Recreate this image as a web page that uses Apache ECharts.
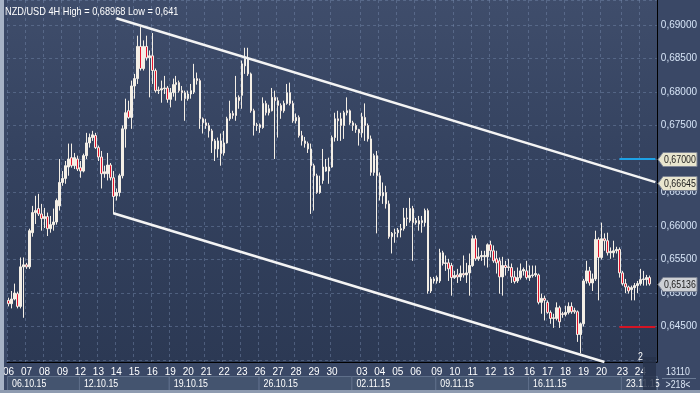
<!DOCTYPE html>
<html><head><meta charset="utf-8">
<script src="https://cdn.jsdelivr.net/npm/echarts@6/dist/echarts.min.js"></script>
<style>html,body{margin:0;padding:0;background:#33405c;}#c{width:700px;height:393px;}</style>
</head><body><div id="c"></div>
<script>
// ---- data ----
const chartTitle = 'NZD/USD 4H High = 0,68968 Low = 0,641';
// each candle: [open, close, low, high]
const wk1 = [[0.6489,0.6484,0.6480,0.6493],[0.6484,0.6491,0.6477,0.6503],[0.6491,0.6500,0.6489,0.6514],[0.6499,0.6480,0.6477,0.6502],[0.6480,0.6539,0.6477,0.6553],[0.6539,0.6542,0.6463,0.6553],[0.6542,0.6539,0.6536,0.6545],[0.6539,0.6593,0.6536,0.6596],[0.6590,0.6620,0.6584,0.6630],[0.6620,0.6623,0.6603,0.6645],[0.6626,0.6618,0.6615,0.6648],[0.6618,0.6611,0.6593,0.6633],[0.6611,0.6614,0.6597,0.6627],[0.6614,0.6596,0.6585,0.6620],[0.6596,0.6602,0.6590,0.6615],[0.6602,0.6606,0.6593,0.6626],[0.6606,0.6638,0.6602,0.6641],[0.6630,0.6665,0.6623,0.6700],[0.6665,0.6671,0.6660,0.6682],[0.6671,0.6690,0.6663,0.6697],[0.6688,0.6700,0.6675,0.6723],[0.6702,0.6690,0.6687,0.6723],[0.6690,0.6702,0.6685,0.6709],[0.6700,0.6685,0.6682,0.6705]];
const wk2 = [[0.6687,0.6682,0.6672,0.6697],[0.6682,0.6705,0.6680,0.6708],[0.6705,0.6724,0.6700,0.6739],[0.6724,0.6732,0.6717,0.6738],[0.6732,0.6736,0.6727,0.6742],[0.6735,0.6717,0.6715,0.6739],[0.6717,0.6703,0.6697,0.6720],[0.6703,0.6678,0.6656,0.6712],[0.6678,0.6681,0.6672,0.6690],[0.6678,0.6691,0.6668,0.6709],[0.6691,0.6672,0.6668,0.6694],[0.6672,0.6644,0.6618,0.6682],[0.6645,0.6650,0.6638,0.6656],[0.6650,0.6675,0.6644,0.6678],[0.6675,0.6745,0.6671,0.6750],[0.6745,0.6769,0.6717,0.6790],[0.6772,0.6762,0.6760,0.6787],[0.6762,0.6809,0.6745,0.6817],[0.6809,0.6820,0.6790,0.6827],[0.6820,0.6868,0.6812,0.6884],[0.6868,0.6835,0.6832,0.68968],[0.6835,0.6868,0.6832,0.6877],[0.6868,0.6851,0.6847,0.6884],[0.6851,0.6854,0.6792,0.6862],[0.6854,0.6832,0.6812,0.6888],[0.6832,0.6802,0.6799,0.6835],[0.6802,0.6803,0.6797,0.6808],[0.6803,0.6805,0.6784,0.6817],[0.6805,0.6806,0.6797,0.6824],[0.6806,0.6789,0.6784,0.6809]];
const wk3 = [[0.6789,0.6799,0.6777,0.6806],[0.6799,0.6811,0.6793,0.6820],[0.6811,0.6814,0.6787,0.6824],[0.6814,0.6802,0.6799,0.6817],[0.6802,0.6799,0.6787,0.6809],[0.6799,0.6790,0.6757,0.6802],[0.6790,0.6797,0.6787,0.6802],[0.6797,0.6802,0.6790,0.6812],[0.6800,0.6820,0.6797,0.6842],[0.6820,0.6817,0.6811,0.6829],[0.6817,0.6760,0.6745,0.6820],[0.6760,0.6754,0.6738,0.6762],[0.6754,0.6750,0.6745,0.6760],[0.6750,0.6742,0.6732,0.6754],[0.6742,0.6727,0.6709,0.6745],[0.6727,0.6715,0.6697,0.6730],[0.6715,0.6727,0.6702,0.6732],[0.6727,0.6708,0.6690,0.6738],[0.6709,0.6724,0.6705,0.6742],[0.6724,0.6760,0.6723,0.6763],[0.6760,0.6768,0.6757,0.6787],[0.6768,0.6765,0.6760,0.6772],[0.6765,0.6792,0.6757,0.6824],[0.6792,0.6787,0.6775,0.6795],[0.6795,0.6842,0.6775,0.6847],[0.6839,0.6850,0.6827,0.6866],[0.6850,0.6827,0.6824,0.6866],[0.6827,0.6772,0.6769,0.6829],[0.6772,0.6750,0.6735,0.6775],[0.6750,0.6751,0.6742,0.6754]];
const wk4 = [[0.6751,0.6747,0.6739,0.6753],[0.6747,0.6783,0.6745,0.6792],[0.6783,0.6769,0.6765,0.6787],[0.6769,0.6775,0.6765,0.6781],[0.6772,0.6792,0.6771,0.6806],[0.6792,0.6787,0.6700,0.6802],[0.6787,0.6780,0.6732,0.6792],[0.6780,0.6772,0.6760,0.6783],[0.6772,0.6783,0.6769,0.6787],[0.6783,0.6799,0.6781,0.6812],[0.6799,0.6783,0.6780,0.6814],[0.6783,0.6757,0.6754,0.6787],[0.6757,0.6762,0.6753,0.6768],[0.6762,0.6735,0.6732,0.6765],[0.6735,0.6727,0.6720,0.6742],[0.6727,0.6723,0.6717,0.6733],[0.6723,0.6715,0.6709,0.6726],[0.6715,0.6690,0.6618,0.6723],[0.6690,0.6675,0.6623,0.6693],[0.6675,0.6650,0.6648,0.6678],[0.6650,0.6660,0.6648,0.6675],[0.6668,0.6688,0.6663,0.6715],[0.6688,0.6682,0.6681,0.6700],[0.6682,0.6688,0.6663,0.6702],[0.6688,0.6732,0.6687,0.6735],[0.6732,0.6760,0.6726,0.6769],[0.6760,0.6757,0.6727,0.6772],[0.6760,0.6750,0.6727,0.6769],[0.6750,0.6769,0.6730,0.6772],[0.6769,0.6772,0.6765,0.6792],[0.6772,0.6754,0.6751,0.6774]];
const wk5 = [[0.6754,0.6750,0.6742,0.6757],[0.6750,0.6744,0.6739,0.6753],[0.6744,0.6739,0.6720,0.6745],[0.6739,0.6763,0.6732,0.6769],[0.6762,0.6750,0.6727,0.6783],[0.6750,0.6730,0.6726,0.6753],[0.6730,0.6680,0.6675,0.6735],[0.6680,0.6705,0.6675,0.6708],[0.6705,0.6675,0.6589,0.6712],[0.6675,0.6645,0.6638,0.6680],[0.6645,0.6650,0.6633,0.6665],[0.6650,0.6633,0.6626,0.6660],[0.6633,0.6584,0.6581,0.6638],[0.6584,0.6589,0.6559,0.6591],[0.6589,0.6590,0.6575,0.6596],[0.6590,0.6594,0.6583,0.6597],[0.6594,0.6596,0.6583,0.6603],[0.6596,0.6612,0.6593,0.6627],[0.6612,0.6611,0.6600,0.6627],[0.6608,0.6626,0.6605,0.6642],[0.6626,0.6605,0.6548,0.6630],[0.6605,0.6608,0.6602,0.6612],[0.6608,0.6603,0.6593,0.6615],[0.6605,0.6608,0.6590,0.6615],[0.6605,0.6623,0.6599,0.6626],[0.6623,0.6503,0.6499,0.6626],[0.6503,0.6521,0.6500,0.6524],[0.6521,0.6518,0.6514,0.6524]];
const wk6 = [[0.6518,0.6523,0.6514,0.6526],[0.6518,0.6560,0.6515,0.6566],[0.6560,0.6544,0.6541,0.6563],[0.6544,0.6545,0.6533,0.6556],[0.6545,0.6536,0.6518,0.6551],[0.6541,0.6523,0.6496,0.6545],[0.6523,0.6526,0.6521,0.6533],[0.6527,0.6524,0.6515,0.6536],[0.6524,0.6529,0.6518,0.6541],[0.6529,0.6527,0.6523,0.6556],[0.6527,0.6530,0.6515,0.6545],[0.6530,0.6541,0.6496,0.6559],[0.6541,0.6581,0.6539,0.6586],[0.6581,0.6551,0.6548,0.6586],[0.6551,0.6554,0.6548,0.6568],[0.6554,0.6556,0.6548,0.6563],[0.6554,0.6556,0.6541,0.6563],[0.6554,0.6572,0.6538,0.6574],[0.6572,0.6563,0.6553,0.6578],[0.6563,0.6548,0.6545,0.6571],[0.6551,0.6545,0.6529,0.6563],[0.6548,0.6524,0.6499,0.6553],[0.6524,0.6541,0.6496,0.6554],[0.6541,0.6538,0.6526,0.6548],[0.6538,0.6539,0.6533,0.6551],[0.6538,0.6524,0.6515,0.6544],[0.6524,0.6517,0.6514,0.6533],[0.6518,0.6523,0.6515,0.6538],[0.6523,0.6533,0.6520,0.6544],[0.6533,0.6535,0.6526,0.6538],[0.6533,0.6523,0.6520,0.6548]];
const wk7 = [[0.6523,0.6526,0.6518,0.6541],[0.6526,0.6527,0.6523,0.6541],[0.6527,0.6529,0.6524,0.6541],[0.6527,0.6486,0.6483,0.6529],[0.6486,0.6492,0.6469,0.6499],[0.6492,0.6489,0.6459,0.6496],[0.6486,0.6471,0.6469,0.6489],[0.6471,0.6462,0.6454,0.6474],[0.6462,0.6463,0.6448,0.6469],[0.6462,0.6478,0.6459,0.6486],[0.6478,0.6457,0.6448,0.6481],[0.6469,0.6468,0.6463,0.6472],[0.6468,0.6471,0.6465,0.6481],[0.6471,0.6480,0.6468,0.6486],[0.6480,0.6472,0.6469,0.6486],[0.6474,0.6472,0.6469,0.6478],[0.6472,0.6438,0.6427,0.6474],[0.6438,0.6454,0.6410,0.6456],[0.6454,0.6518,0.6450,0.6521],[0.6518,0.6533,0.6514,0.6548],[0.6533,0.6515,0.6511,0.6539],[0.6515,0.6521,0.6503,0.6529],[0.6521,0.6580,0.6518,0.6593],[0.6580,0.6553,0.6489,0.6583],[0.6553,0.6581,0.6550,0.6605],[0.6581,0.6578,0.6563,0.6589],[0.6578,0.6560,0.6556,0.6590],[0.6560,0.6562,0.6551,0.6568],[0.6560,0.6563,0.6553,0.6578],[0.6563,0.6565,0.6559,0.6569],[0.6565,0.6530,0.6523,0.6568]];
const wk8 = [[0.6530,0.6514,0.6511,0.6533],[0.6514,0.6509,0.6500,0.6521],[0.6509,0.6503,0.6499,0.6511],[0.6505,0.6508,0.6489,0.6511],[0.6508,0.6511,0.6489,0.6515],[0.6511,0.6514,0.6500,0.6518],[0.6514,0.6520,0.6511,0.6536],[0.6520,0.6521,0.6511,0.6533],[0.6520,0.6523,0.6511,0.6527],[0.6523,0.65136,0.6511,0.6526]];

const weekLabels = ['06.10.15','12.10.15','19.10.15','26.10.15','02.11.15','09.11.15','16.11.15','23.11.15'];
const weekStarts = [0,24,54,84,115,143,174,205];
const dayLabels = ['06','07','08','09','12','13','14','15','16','19','20','21','22','23','26','27','28','29','30','03','04','05','06','09','10','11','12','13','16','17','18','19','20','23','24'];
const dayStarts = [0,6,12,18,24,30,36,42,48,54,60,66,72,78,84,90,96,102,108,118,124,130,136,143,149,155,161,167,174,180,186,192,198,205,211];
const slotCount = 217;
const yMin = 0.6397, yMax = 0.69373;
const lowestLabel = 0.645;
const upperChannel = [[36, 0.6910], [216, 0.66655]];
const lowerChannel = [[35, 0.6619], [199, 0.6397]];
const levelBlue = 0.67, levelRed = 0.645, levelFrom = 204, levelTo = 216;
const priceTags = [
  {value: 0.67, text: '0,67000', fill: '#e9e6cf'},
  {value: 0.66645, text: '0,66645', fill: '#e9e6cf'},
  {value: 0.65136, text: '0,65136', fill: '#cdd0d4'}
];
const footerTop = '13110', footerBottom = '>218<', markerText = '2';

// ---- build ----
const candles = [].concat(wk1, wk2, wk3, wk4, wk5, wk6, wk7, wk8);
const categories = Array.from({length: slotCount}, (_, i) => String(i));
const dayMap = {};
dayStarts.forEach((s, k) => { dayMap[s] = dayLabels[k]; });
const FONT = "'Liberation Sans', Arial, sans-serif";
const NARROW = 0.8;

const chart = echarts.init(document.getElementById('c'), null, {renderer: 'canvas'});
const seg = (a, b, color, width) => [
  {coord: [String(a[0]), a[1]], lineStyle: {color, width, type: 'solid'}},
  {coord: [String(b[0]), b[1]]}
];
const gridLine = {color: 'rgba(120,140,175,0.45)', type: [3, 3], width: 1};
const option = {
  animation: false,
  backgroundColor: '#3a4866',
  textStyle: {fontFamily: FONT},
  grid: {left: 5, right: 43, top: 0, bottom: 31, show: true, borderWidth: 0,
    backgroundColor: {type: 'linear', x: 0, y: 0, x2: 0, y2: 1, colorStops: [{offset: 0, color: '#3f4d6b'}, {offset: 0.45, color: '#34425f'}, {offset: 1, color: '#2c3954'}]}},
  xAxis: {
    type: 'category', data: categories, boundaryGap: true,
    axisLine: {show: true, lineStyle: {color: '#000000', width: 1}},
    axisTick: {show: false},
    axisLabel: {interval: (i) => dayMap[i] !== undefined, formatter: (v) => dayMap[+v] || '', color: '#ffffff', fontSize: 10, margin: 5, fontFamily: FONT},
    splitLine: {show: true, interval: (i) => dayMap[i] !== undefined, lineStyle: gridLine}
  },
  yAxis: {
    type: 'value', position: 'right', min: yMin, max: yMax, scale: true,
    splitNumber: 11, minInterval: 0.005, maxInterval: 0.005,
    axisLine: {show: true, lineStyle: {color: '#000000', width: 1}},
    axisTick: {show: false},
    axisLabel: {color: '#d6e4f6', fontSize: 10, margin: 4, showMinLabel: false, showMaxLabel: false, fontFamily: FONT,
      formatter: (v) => v < lowestLabel - 0.001 ? '' : v.toFixed(5).replace('.', ',')},
    splitLine: {show: true, lineStyle: gridLine}
  },
  series: [{
    type: 'candlestick', data: candles, barWidth: 2,
    itemStyle: {color: '#f4efe6', color0: '#e3132c', borderColor: '#f4efe6', borderColor0: '#f4efe6', borderWidth: 1},
    markLine: {
      silent: true, symbol: ['none', 'none'], label: {show: false}, animation: false,
      data: [
        seg(upperChannel[0], upperChannel[1], '#f4f4f4', 2.5),
        seg(lowerChannel[0], lowerChannel[1], '#f4f4f4', 2.5),
        seg([levelFrom, levelBlue], [levelTo, levelBlue], '#1ea2e6', 2),
        seg([levelFrom, levelRed], [levelTo, levelRed], '#d41424', 2)
      ]
    }
  }]
};
chart.setOption(option);

// ---- overlay graphics positioned via the chart's own scales ----
const gx = (i) => chart.convertToPixel({xAxisIndex: 0}, String(i));
const gy = (v) => chart.convertToPixel({yAxisIndex: 0}, v);
const band = gx(1) - gx(0);
const plotRight = 657;
const txt = (text, x, y, opt) => Object.assign({type: 'text', x: x, y: y, scaleX: NARROW, z: 31,
  style: {text: text, x: 0, y: 0, fill: '#ffffff', fontSize: 11, fontFamily: FONT, verticalAlign: 'middle', align: 'left'}}, opt || {});
const els = [];
els.push({type: 'rect', shape: {x: 0, y: 0, width: 4, height: 393}, style: {fill: '#a7b3c6'}, z: 50});
els.push({type: 'rect', shape: {x: 0, y: 390, width: 700, height: 3}, style: {fill: '#8e9bb0'}, z: 50});
const title = txt(chartTitle, 5, 12); title.style.fontSize = 11.5; els.push(title);
weekStarts.forEach((s, k) => {
  const x0 = gx(s) - band / 2;
  const x1 = k + 1 < weekStarts.length ? gx(weekStarts[k + 1]) - band / 2 : plotRight;
  els.push({type: 'rect', shape: {x: x0 + 0.5, y: 376.5, width: x1 - x0, height: 14}, style: {fill: '#44546f', stroke: '#5f6f8a', lineWidth: 1}, z: 10});
  els.push(txt(weekLabels[k], x0 + 5, 384, {z: 11}));
});
els.push({type: 'rect', shape: {x: 643, y: 357, width: 13, height: 36}, style: {fill: 'rgba(40,52,76,0.85)'}, z: 20});
const mk = txt(markerText, gx(211), 357); mk.style.align = 'center'; els.push(mk);
const f1 = txt(footerTop, 678, 372); f1.style.align = 'center'; f1.style.fill = '#dbe6f5'; f1.originX = 0; els.push(f1);
els.push({type: 'line', shape: {x1: 662, y1: 378.5, x2: 696, y2: 378.5}, style: {stroke: '#6a7a94', lineWidth: 1}, z: 21});
const f2 = txt(footerBottom, 678, 385); f2.style.align = 'center'; f2.style.fill = '#dbe6f5'; els.push(f2);
priceTags.forEach((t) => {
  const y = Math.round(gy(t.value)) + 0.5;
  els.push({type: 'polygon', shape: {points: [[plotRight + 1, y], [plotRight + 6, y - 7], [697, y - 7], [697, y + 7], [plotRight + 6, y + 7]]},
    style: {fill: t.fill, stroke: '#7d8494', lineWidth: 1}, z: 30});
  const tt = txt(t.text, plotRight + 7, y); tt.style.fill = '#1c1c1c'; els.push(tt);
});
chart.setOption({graphic: {elements: els}});
</script>
</body></html>
